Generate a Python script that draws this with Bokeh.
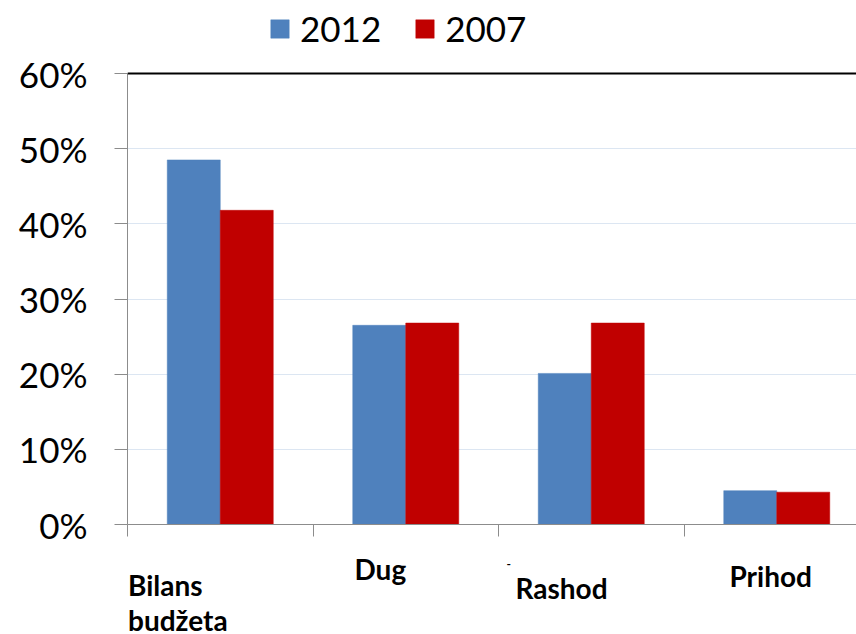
from bokeh.plotting import figure
from bokeh.layouts import column
from bokeh.models import (Range1d, FixedTicker, NumeralTickFormatter, Legend, LegendItem,
                          Span, ColumnDataSource)
from bokeh.core.properties import value
from bokeh.embed import file_html
from bokeh.resources import INLINE

# ---- data ----
categories = ["Bilans budžeta", "Dug", "Rashod", "Prihod"]
series_names = ["2012", "2007"]
v2012 = [0.485, 0.265, 0.201, 0.045]
v2007 = [0.418, 0.268, 0.268, 0.043]
y_ticks = [0.0, 0.1, 0.2, 0.3, 0.4, 0.5, 0.6]

BLUE = "#4F81BD"
RED = "#C00000"
FONT = "Lato"

W, H = 856, 634
LEFT = 127
AXIS_Y = 524          # pixel row of 0%
H_MAIN = 554
cat_px = 185.5
px_per_unit = 451 / 0.6
bar_w = 1 / 3.5

x_end = (W - LEFT) / cat_px
p = figure(width=W, height=H_MAIN, output_backend="svg", toolbar_location=None,
           x_range=Range1d(0, x_end), y_range=Range1d(0, AXIS_Y / px_per_unit),
           min_border_left=LEFT, min_border_top=0, min_border_bottom=H_MAIN - AXIS_Y,
           min_border_right=0)
p.outline_line_color = None
p.background_fill_color = "white"
p.border_fill_color = "white"

idx = list(range(len(categories)))
src = ColumnDataSource(dict(
    x12=[i + 0.5 - bar_w / 2 for i in idx],
    x07=[i + 0.5 + bar_w / 2 for i in idx],
    v2012=v2012, v2007=v2007))

r12 = p.vbar(x="x12", top="v2012", width=bar_w, bottom=0, source=src,
             fill_color=BLUE, line_color=BLUE, line_width=0.5)
r07 = p.vbar(x="x07", top="v2007", width=bar_w, bottom=0, source=src,
             fill_color=RED, line_color=RED, line_width=0.5)

# top border line at 60%
p.add_layout(Span(location=0.6, dimension="width", line_color="black", line_width=2))

# y axis
p.yaxis.ticker = FixedTicker(ticks=y_ticks)
p.yaxis.bounds = (0, 0.6)
p.yaxis.formatter = NumeralTickFormatter(format="0%")
p.yaxis.axis_line_color = "#8C8C8C"
p.yaxis.major_tick_line_color = "#8C8C8C"
p.yaxis.major_tick_out = 13
p.yaxis.major_tick_in = 0
p.yaxis.minor_tick_line_color = None
p.yaxis.major_label_standoff = 27
p.yaxis.major_label_text_font = FONT
p.yaxis.major_label_text_font_size = "35px"
p.yaxis.major_label_text_color = "black"

# x axis (category boundaries)
x_ticks = [0, 1, 2, 3]
p.xaxis.ticker = FixedTicker(ticks=x_ticks)
p.xaxis.major_label_overrides = {t: "" for t in x_ticks}
p.xaxis.axis_line_color = "#8C8C8C"
p.xaxis.major_tick_line_color = "#8C8C8C"
p.xaxis.major_tick_out = 12
p.xaxis.major_tick_in = 0
p.xaxis.minor_tick_line_color = None
p.xaxis.major_label_standoff = 0
p.xaxis.major_label_text_font_size = "1px"

p.xgrid.grid_line_color = None
p.ygrid.ticker = FixedTicker(ticks=y_ticks)
p.ygrid.grid_line_color = "#DCE6F2"
p.ygrid.grid_line_width = 1

legend = Legend(items=[LegendItem(label=series_names[0], renderers=[r12]),
                       LegendItem(label=series_names[1], renderers=[r07])],
                orientation="horizontal", location=(141, AXIS_Y - 49),
                label_text_font=FONT, label_text_font_size="35px",
                label_text_color="black",
                glyph_width=23, glyph_height=23, label_standoff=9, spacing=32,
                padding=0, margin=0, border_line_color=None,
                background_fill_alpha=0, label_height=23)
p.add_layout(legend, "center")

# ---- category labels strip (frame aligned with the main plot) ----
q = figure(width=W, height=H - H_MAIN, output_backend="svg", toolbar_location=None,
           x_range=Range1d(0, x_end), y_range=Range1d(H, H_MAIN),
           min_border_left=LEFT, min_border_right=0, min_border_top=0, min_border_bottom=0,
           x_axis_location=None, y_axis_location=None)
q.outline_line_color = None
q.grid.grid_line_color = None
q.background_fill_color = "white"
q.border_fill_color = "white"

def dx(px):
    return (px - LEFT) / cat_px

SHIFT = 11
lab_text = ["Bilans", "budžeta", "Dug", "Rashod", "Prihod"]
lab_x = [dx(127.5), dx(127.5), dx(354), dx(515), dx(729)]
lab_y = [595 - SHIFT, 630 - SHIFT, 579 - SHIFT, 598 - SHIFT, 586 - SHIFT]
q.text(x=lab_x, y=lab_y, text=lab_text, text_font=value(FONT),
       text_font_style="bold", text_font_size="28px", text_color="black",
       text_align="left", text_baseline="alphabetic")
q.text(x=[dx(506)], y=[563], text=["-"], text_font=value(FONT),
       text_font_style="bold", text_font_size="12px", text_color="black",
       text_align="left", text_baseline="middle")

layout = column(p, q, spacing=0)
open("out.html", "w").write(file_html(layout, INLINE))
